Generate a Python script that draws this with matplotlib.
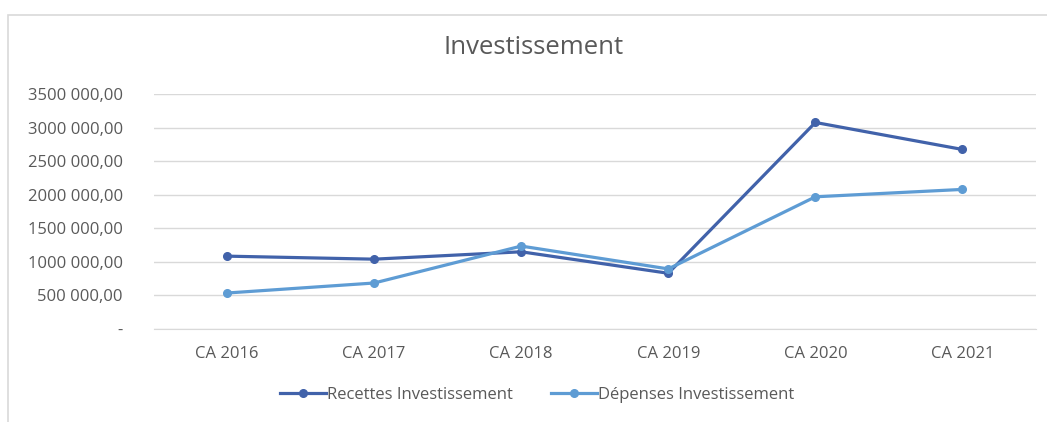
import matplotlib.pyplot as plt
from matplotlib.patches import Rectangle
from matplotlib.ticker import FuncFormatter, MultipleLocator

# data
categories = ['CA 2016', 'CA 2017', 'CA 2018', 'CA 2019', 'CA 2020', 'CA 2021']
recettes = [1085000, 1040000, 1150000, 830000, 3076000, 2674000]
depenses = [536000, 685000, 1235000, 895000, 1969000, 2079000]

plt.rcParams['font.family'] = ['Open Sans', 'DejaVu Sans']

W, H = 1047, 422
fig = plt.figure(figsize=(W / 100, H / 100), dpi=100)

# outer chart frame (open at right / bottom, cropped)
fig.patches.append(Rectangle((8 / W, -0.05), 1.1, 1 - 15 / H + 0.05,
                             transform=fig.transFigure, fill=False,
                             edgecolor='#d9d9d9', linewidth=1.2))

ax = fig.add_axes([153.5 / W, 1 - 329 / H, (1036 - 153.5) / W, (329 - 94) / H])

x = range(len(categories))
ax.plot(x, recettes, color='#4162aa', linewidth=2.3, marker='o', markersize=5.5,
        label='Recettes Investissement', zorder=3)
ax.plot(x, depenses, color='#5e9cd4', linewidth=2.3, marker='o', markersize=5.5,
        label='Dépenses Investissement', zorder=3)

ax.set_xlim(-0.5, len(categories) - 0.5)
ax.set_ylim(0, 3500000)
ax.yaxis.set_major_locator(MultipleLocator(500000))


def fmt(v, pos):
    # same display as the source: one space before the last 3 digits, "-" for 0
    if v == 0:
        return '-'
    v = int(round(v))
    return f'{v // 1000} {v % 1000:03d},00'


ax.yaxis.set_major_formatter(FuncFormatter(fmt))
ax.set_xticks(list(x))
ax.set_xticklabels(categories)
ax.grid(axis='y', color='#d9d9d9', linewidth=1)
ax.set_axisbelow(True)
for s in ['top', 'right', 'left']:
    ax.spines[s].set_visible(False)
ax.spines['bottom'].set_color('#d9d9d9')
ax.tick_params(length=0, labelsize=12, colors='#595959')
ax.tick_params(axis='x', pad=12)
ax.tick_params(axis='y', pad=22)

fig.text(534 / W, 1 - 48 / H, 'Investissement', ha='center', va='center',
         fontsize=18.5, color='#595959')

fig.legend(loc='center', bbox_to_anchor=(537 / W, 1 - 395 / H), ncol=2,
           frameon=False, fontsize=12, labelcolor='#595959', handlelength=2.75,
           handletextpad=0.05, columnspacing=2.3)

fig.savefig('out.png', dpi=100)
